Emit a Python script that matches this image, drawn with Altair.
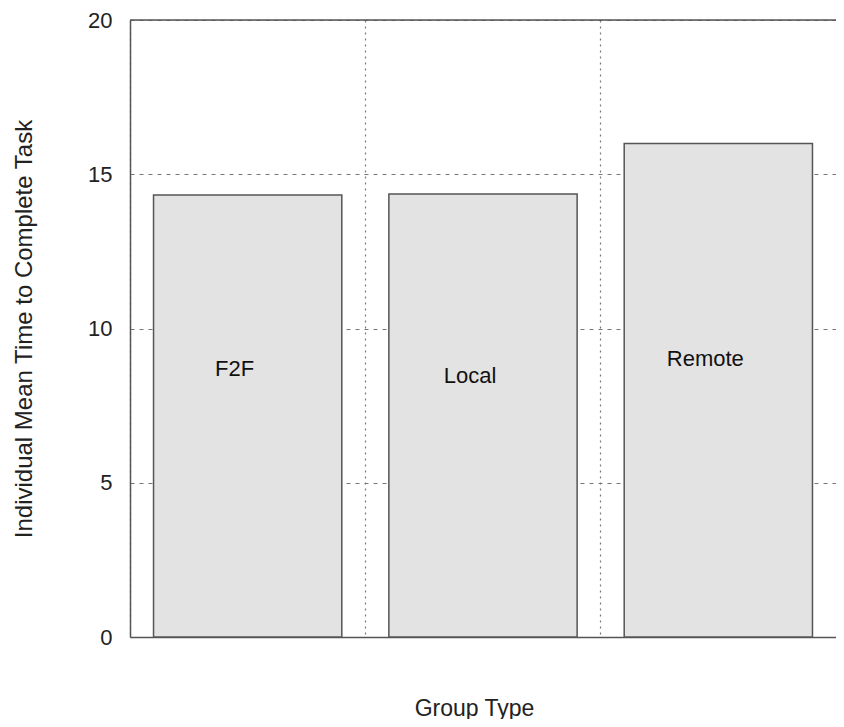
import altair as alt
import pandas as pd

groups = ["F2F", "Local", "Remote"]
mean_time = [14.33, 14.36, 16.0]
label_y = [8.7, 8.45, 9.0]

df = pd.DataFrame({"group": groups, "value": mean_time, "ly": label_y})

FONT = "Liberation Sans"

xscale = alt.Scale(domain=groups, paddingInner=0.2, paddingOuter=0.1)
yscale = alt.Scale(domain=[0, 20], nice=False)

base = alt.Chart(df)

bars = base.mark_bar(fill="#e3e3e3", stroke="#555555", strokeWidth=1.5).encode(
    x=alt.X("group:N", scale=xscale, sort=groups,
            axis=alt.Axis(title="Group Type", labels=False, ticks=False,
                          grid=True, bandPosition=-0.125, gridDash=[2, 4],
                          gridColor="#777777", gridWidth=1.2,
                          domainColor="#555555", domainWidth=1.5,
                          titleFontSize=23, titleFontWeight="normal",
                          titleFont=FONT, titleColor="#222222",
                          titlePadding=60, titleX=344)),
    y=alt.Y("value:Q", scale=yscale,
            axis=alt.Axis(title="Individual Mean Time to Complete Task",
                          values=[0, 5, 10, 15, 20], ticks=False,
                          labelPadding=18, labelFontSize=22, labelFont=FONT,
                          labelColor="#222222",
                          grid=True, gridDash=[4, 5], gridColor="#777777",
                          gridWidth=1.2, domainColor="#555555", domainWidth=1.5,
                          titleFontSize=24, titleFontWeight="normal",
                          titleFont=FONT, titleColor="#222222",
                          titlePadding=51)),
)

labels = base.mark_text(font=FONT, fontSize=22, color="#111111", dx=-13).encode(
    x=alt.X("group:N", scale=xscale, sort=groups),
    y=alt.Y("ly:Q", scale=yscale),
    text="group:N",
)

top = alt.Chart(pd.DataFrame({"v": [20]})).mark_rule(color="#555555", strokeWidth=1.5).encode(
    y=alt.Y("v:Q", scale=yscale)
)

chart = alt.layer(bars, labels, top).properties(
    width=706, height=617,
    autosize=alt.AutoSizeParams(type="none"),
    padding={"left": 122, "top": 12, "right": 0, "bottom": 82},
).configure_view(stroke=None).configure(background="white")

chart.save("out.html", embed_options={"renderer": "svg", "actions": False})
